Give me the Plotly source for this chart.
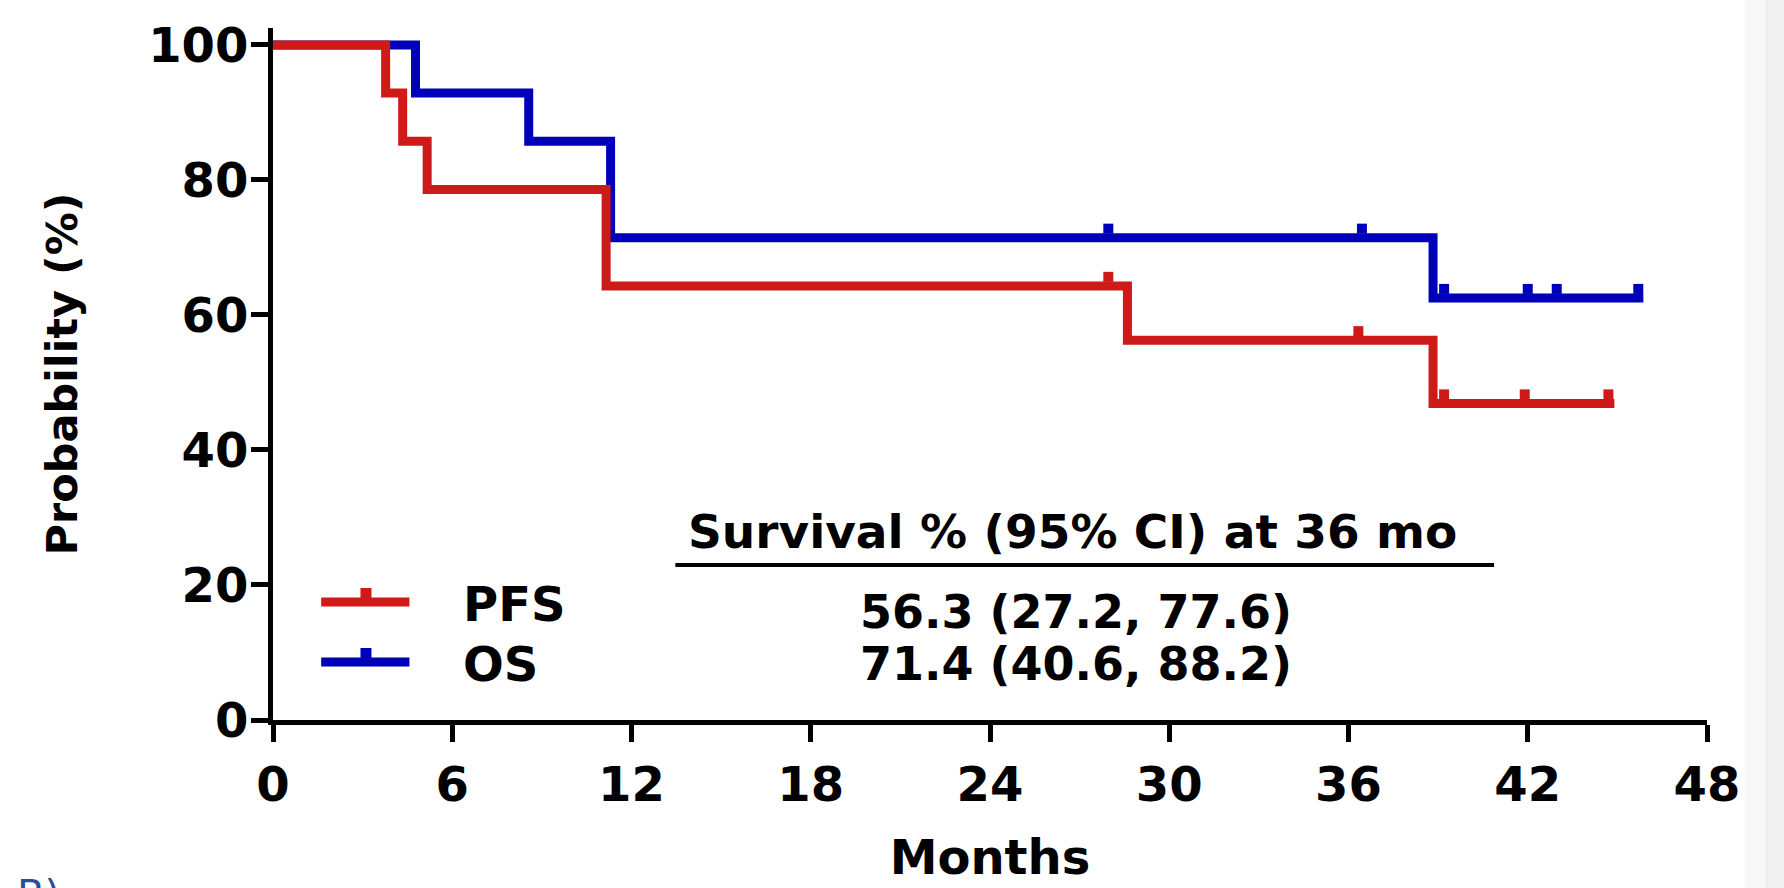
import numpy as np
import plotly.graph_objects as go

# ---------------- data ----------------
pfs_event_times = [0, 3.77, 4.34, 5.16, 11.15, 28.6, 38.83]
pfs_surv        = [100, 92.86, 85.71, 78.57, 64.29, 56.25, 46.88]
pfs_last_fu     = 44.9
pfs_censor      = [27.96, 36.33, 39.2, 41.9, 44.7]

os_event_times = [0, 4.77, 8.56, 11.3, 38.83]
os_surv        = [100, 92.86, 85.71, 71.43, 62.5]
os_last_fu     = 45.87
os_censor      = [27.96, 36.45, 39.2, 42.0, 42.97, 45.7]

x_ticks = [0, 6, 12, 18, 24, 30, 36, 42, 48]
y_ticks = [0, 20, 40, 60, 80, 100]

table_header = "Survival % (95% CI) at 36 mo"
table_rows = ["56.3 (27.2, 77.6)", "71.4 (40.6, 88.2)"]
series_names = ["PFS", "OS"]

# ---------------- style ----------------
RED = "#cf1a1a"
BLUE = "#0000b8"
LW = 9
BUMP = 1.35          # censor tick offset above line (y units)
FONT = "DejaVu Sans"
W, H = 1784, 888
L, R, T, B = 272.5, 77, 28, 168
YMAX = 102.5


def X(px):
    return (px - L) / (W - R - L)


def Y(py):
    return (H - B - py) / (H - B - T)


def surv_at(times, surv, t):
    idx = np.searchsorted(np.array(times), t, side="right") - 1
    return surv[idx]


fig = go.Figure()

for times, surv, last, cens, col, name in [
    (os_event_times, os_surv, os_last_fu, os_censor, BLUE, "OS"),
    (pfs_event_times, pfs_surv, pfs_last_fu, pfs_censor, RED, "PFS"),
]:
    xs = list(times) + [last]
    ys = list(surv) + [surv[-1]]
    fig.add_trace(go.Scatter(x=xs, y=ys, mode="lines", line=dict(color=col, width=LW, shape="hv"),
                             name=name, showlegend=False, cliponaxis=False, hoverinfo="skip"))
    cy = [surv_at(times, surv, t) + BUMP for t in cens]
    fig.add_trace(go.Scatter(x=cens, y=cy, mode="markers",
                             marker=dict(symbol="square", size=10, color=col, line=dict(width=0)),
                             showlegend=False, cliponaxis=False, hoverinfo="skip"))

shapes = []
annotations = []

# custom legend
leg_rows = [(602, RED, series_names[0]), (662, BLUE, series_names[1])]
for py, col, name in leg_rows:
    shapes.append(dict(type="line", xref="paper", yref="paper", x0=X(320.7), x1=X(409), y0=Y(py), y1=Y(py),
                       line=dict(color=col, width=LW)))
    shapes.append(dict(type="rect", xref="paper", yref="paper", x0=X(360), x1=X(371), y0=Y(py - 4), y1=Y(py - 14),
                       fillcolor=col, line=dict(width=0)))
    annotations.append(dict(xref="paper", yref="paper", x=X(461), y=Y(py + 2), text=name, showarrow=False,
                            xanchor="left", yanchor="middle",
                            font=dict(family=FONT, size=48, color="black", weight="bold")))

# table
annotations.append(dict(xref="paper", yref="paper", x=X(1072), y=Y(531), text=table_header, showarrow=False,
                        xanchor="center", yanchor="middle",
                        font=dict(family=FONT, size=47, color="black", weight="bold")))
shapes.append(dict(type="line", xref="paper", yref="paper", x0=X(675), x1=X(1494), y0=Y(565), y1=Y(565),
                   line=dict(color="black", width=4)))
for py, txt in zip([612, 664], table_rows):
    annotations.append(dict(xref="paper", yref="paper", x=X(1076), y=Y(py), text=txt, showarrow=False,
                            xanchor="center", yanchor="middle",
                            font=dict(family=FONT, size=46, color="black", weight="bold")))

# cut-off panel label
annotations.append(dict(xref="paper", yref="paper", x=X(14), y=Y(870), text="B)", showarrow=False,
                        xanchor="left", yanchor="top",
                        font=dict(family=FONT, size=40, color="#2b4c9b")))

# right edge shading
shapes.append(dict(type="rect", xref="paper", yref="paper", x0=X(1745), x1=X(1765), y0=Y(0), y1=Y(H),
                   fillcolor="#f8f8f8", line=dict(width=0), layer="below"))
shapes.append(dict(type="rect", xref="paper", yref="paper", x0=X(1765), x1=X(W), y0=Y(0), y1=Y(H),
                   fillcolor="#f0f0f0", line=dict(width=0), layer="below"))

axis_font = dict(family=FONT, size=48, color="black", weight="bold")
fig.update_layout(
    width=W, height=H,
    margin=dict(l=L, r=R, t=T, b=B, pad=0),
    paper_bgcolor="white", plot_bgcolor="white",
    shapes=shapes, annotations=annotations,
    showlegend=False,
    xaxis=dict(range=[0, 48], tickvals=x_ticks, ticktext=[str(v) for v in x_ticks],
               showgrid=False, zeroline=False, showline=True, linecolor="black", linewidth=5,
               ticks="outside", ticklen=17, tickwidth=5, tickcolor="black",
               tickfont=axis_font, ticklabelstandoff=1,
               title=dict(text="Months", font=axis_font, standoff=31)),
    yaxis=dict(range=[0, YMAX], tickvals=y_ticks, ticktext=[str(v) for v in y_ticks],
               showgrid=False, zeroline=False, showline=True, linecolor="black", linewidth=5,
               ticks="outside", ticklen=17, tickwidth=5, tickcolor="black",
               tickfont=axis_font, ticklabelstandoff=-7,
               title=dict(text="Probability (%)", font=dict(family=FONT, size=43, color="black", weight="bold"),
                          standoff=59)),
)

fig.write_html("out.html", config={"displayModeBar": False},
               post_script="document.body.style.margin='0px';document.body.style.overflow='hidden';")
